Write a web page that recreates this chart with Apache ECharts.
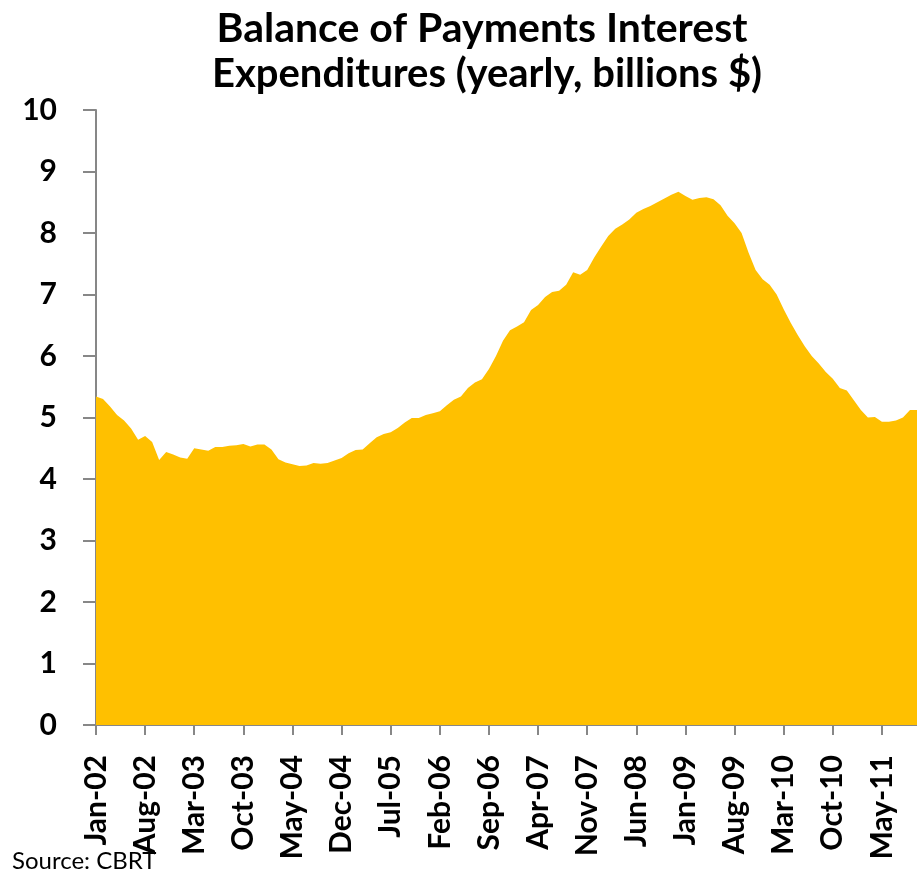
<!DOCTYPE html>
<html>
<head>
<meta charset="utf-8">
<script src="https://cdn.jsdelivr.net/npm/echarts@6/dist/echarts.min.js"></script>
<style>
    html, body { margin: 0; padding: 0; background: #fff; }
    #chart { width: 917px; height: 871px; }
</style>
</head>
<body>
<div id="chart"></div>
<script>
    // monthly series, Jan-02 .. Oct-11 (billions $, yearly sum)
    var startYear = 2002;
    var monthNames = ['Jan','Feb','Mar','Apr','May','Jun','Jul','Aug','Sep','Oct','Nov','Dec'];
    var interestExp = [
        5.34, 5.30, 5.18, 5.04, 4.95, 4.82, 4.64, 4.70, 4.60, 4.31, 4.44, 4.40,
        4.35, 4.33, 4.50, 4.48, 4.46, 4.52, 4.52, 4.54, 4.55, 4.57, 4.53, 4.56,
        4.56, 4.48, 4.32, 4.27, 4.24, 4.21, 4.22, 4.26, 4.25, 4.26, 4.30, 4.34,
        4.42, 4.47, 4.48, 4.58, 4.68, 4.73, 4.76, 4.83, 4.92, 4.99, 4.99, 5.04,
        5.07, 5.10, 5.20, 5.29, 5.34, 5.48, 5.57, 5.62, 5.79, 6.00, 6.25, 6.42,
        6.48, 6.55, 6.75, 6.83, 6.96, 7.04, 7.06, 7.16, 7.36, 7.32, 7.40, 7.60,
        7.78, 7.95, 8.07, 8.14, 8.22, 8.33, 8.39, 8.44, 8.50, 8.56, 8.62, 8.67,
        8.60, 8.54, 8.57, 8.58, 8.55, 8.45, 8.28, 8.16, 8.00, 7.68, 7.40, 7.25,
        7.16, 7.00, 6.76, 6.54, 6.34, 6.16, 6.00, 5.88, 5.74, 5.63, 5.48, 5.44,
        5.28, 5.12, 5.00, 5.01, 4.93, 4.93, 4.95, 5.00, 5.12, 5.12
    ];
    var months = [];
    for (var i = 0; i < interestExp.length; i++) {
        var yy = startYear + Math.floor(i / 12);
        months.push(monthNames[i % 12] + '-' + String(yy).slice(2));
    }
    var yTicks = [0, 10, 1]; // min, max, step

    var axisGray = '#878787';
    var font = 'Lato, "Open Sans", sans-serif';

    var option = {
        animation: false,
        backgroundColor: '#fff',
        grid: {
            left: 96,
            right: 0,
            top: 110,
            bottom: 146
        },
        graphic: [
            {
                type: 'text', x: 482, y: 29,
                style: {
                    text: 'Balance of Payments Interest',
                    font: 'bold 41px ' + font,
                    fill: '#000',
                    align: 'center',
                    verticalAlign: 'middle'
                }
            },
            {
                type: 'text', x: 487, y: 74,
                style: {
                    text: 'Expenditures (yearly, billions $)',
                    font: 'bold 40px ' + font,
                    fill: '#000',
                    align: 'center',
                    verticalAlign: 'middle'
                }
            },
            {
                type: 'text', x: 12, y: 861,
                style: {
                    text: 'Source: CBRT',
                    font: '24px ' + font,
                    fill: '#000',
                    align: 'left',
                    verticalAlign: 'middle'
                }
            }
        ],
        xAxis: {
            type: 'category',
            data: months,
            boundaryGap: false,
            axisLine: { lineStyle: { color: axisGray, width: 2 } },
            axisTick: {
                show: true,
                interval: 6,
                length: 10,
                lineStyle: { color: axisGray, width: 2 }
            },
            axisLabel: {
                interval: 6,
                rotate: 90,
                margin: 30,
                fontFamily: font,
                fontWeight: 'bold',
                fontSize: 30,
                color: '#000'
            },
            splitLine: { show: false }
        },
        yAxis: {
            type: 'value',
            min: yTicks[0],
            max: yTicks[1],
            interval: yTicks[2],
            axisLine: { show: true, lineStyle: { color: axisGray, width: 2 } },
            axisTick: {
                show: true,
                length: 13,
                lineStyle: { color: axisGray, width: 2 }
            },
            axisLabel: {
                margin: 39,
                fontFamily: font,
                fontWeight: 'bold',
                fontSize: 30,
                color: '#000'
            },
            splitLine: { show: false }
        },
        series: [{
            type: 'line',
            data: interestExp,
            showSymbol: false,
            lineStyle: { width: 0 },
            areaStyle: { color: '#FFC000', opacity: 1 },
            itemStyle: { color: '#FFC000' },
            z: 1
        }]
    };

    echarts.init(document.getElementById('chart')).setOption(option);
</script>
</body>
</html>
